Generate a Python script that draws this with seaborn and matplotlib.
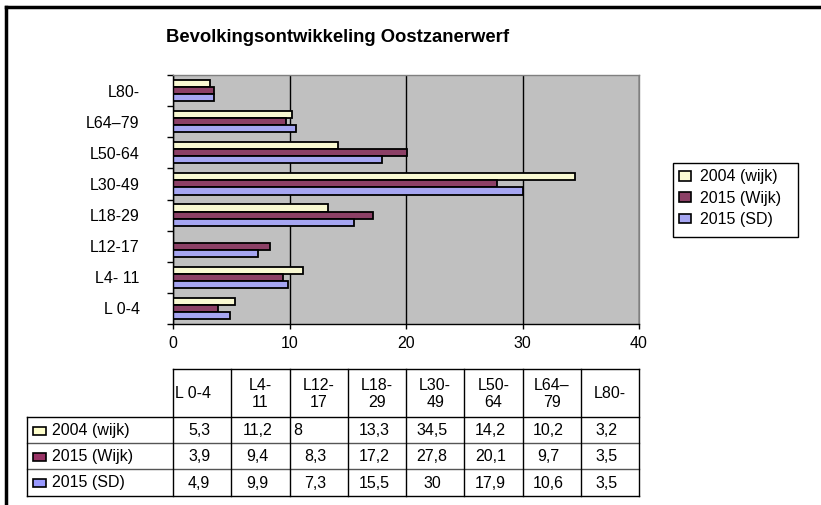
import matplotlib
matplotlib.use("Agg")
import matplotlib.pyplot as plt
import seaborn as sns
import numpy as np
import pandas as pd
from matplotlib.patches import Rectangle
from matplotlib.lines import Line2D
from matplotlib.ticker import FixedLocator

# ---------------- data ----------------
categories = ["L 0-4", "L4- 11", "L12-17", "L18-29", "L30-49", "L50-64", "L64–79", "L80-"]
table_headers = ["L 0-4", "L4-\n11", "L12-\n17", "L18-\n29", "L30-\n49", "L50-\n64", "L64–\n79", "L80-"]
series_names = ["2004 (wijk)", "2015 (Wijk)", "2015 (SD)"]
values_2004 = [5.3, 11.2, 8, 13.3, 34.5, 14.2, 10.2, 3.2]
values_2015_wijk = [3.9, 9.4, 8.3, 17.2, 27.8, 20.1, 9.7, 3.5]
values_2015_sd = [4.9, 9.9, 7.3, 15.5, 30, 17.9, 10.6, 3.5]
# In the source chart the 2004 value for L12-17 is stored as text: shown in the table, not drawn as a bar
text_cells_2004 = ["L12-17"]
colors = ["#FFFFCC", "#993366", "#9999FF"]
title = "Bevolkingsontwikkeling Oostzanerwerf"
x_ticks = [0, 10, 20, 30, 40]

plt.rcParams["font.family"] = ["Liberation Sans", "DejaVu Sans"]
FS = 11.5

series_values = [values_2004, values_2015_wijk, values_2015_sd]
rows = []
for name, vals in zip(series_names, series_values):
    for cat, v in zip(categories, vals):
        plotted = np.nan if (name == series_names[0] and cat in text_cells_2004) else v
        rows.append({"category": cat, "series": name, "value": plotted})
df = pd.DataFrame(rows)

W, H = 821, 505
fig = plt.figure(figsize=(W / 100, H / 100), dpi=100)
fig.patch.set_facecolor("white")

def fx(px):
    return px / W

def fy(py):
    return 1 - py / H

ax_l, ax_r, ax_t, ax_b = 173, 639, 75, 324
ax = fig.add_axes([fx(ax_l), fy(ax_b), fx(ax_r - ax_l), (ax_b - ax_t) / H])

sns.barplot(data=df, y="category", x="value", hue="series",
            order=categories[::-1], hue_order=series_names, palette=colors,
            orient="h", width=0.68, edgecolor="black", linewidth=1.3,
            errorbar=None, ax=ax)
handles, labels = ax.get_legend_handles_labels()
if ax.get_legend() is not None:
    ax.get_legend().remove()

ax.set_facecolor("#C0C0C0")
ax.set_xlim(0, 40)
ax.set_ylim(len(categories) - 0.5, -0.5)
ax.set_xticks(x_ticks)
ax.set_xticklabels([str(t) for t in x_ticks])
ax.xaxis.grid(True, color="black", linewidth=1)
ax.yaxis.grid(False)
ax.set_axisbelow(True)
ax.set_xlabel("")
ax.set_ylabel("")

ax.yaxis.set_minor_locator(FixedLocator(np.arange(-0.5, len(categories), 1)))
ax.tick_params(axis="y", which="major", length=0, pad=24, labelsize=FS, labelcolor="black")
ax.tick_params(axis="y", which="minor", length=4.3, width=1, color="black", direction="out")
ax.tick_params(axis="x", which="major", length=3.6, width=1, color="black", direction="out",
               pad=5, labelsize=FS, labelcolor="black")
for side in ["left", "bottom"]:
    ax.spines[side].set_color("black")
    ax.spines[side].set_linewidth(1)
for side in ["top", "right"]:
    ax.spines[side].set_color("#808080")
    ax.spines[side].set_linewidth(1)

# title
fig.text(fx(338), fy(37), title, ha="center", va="center", fontsize=13.3, fontweight="bold")

# outer border (left and top)
fig.add_artist(Line2D([fx(6), fx(6)], [0, fy(7)], color="black", linewidth=2.5))
fig.add_artist(Line2D([fx(6), 1], [fy(7), fy(7)], color="black", linewidth=2.5))

# ---------------- overlay (legend frame + data table) ----------------
tax = fig.add_axes([0, 0, 1, 1])
tax.set_xlim(0, W)
tax.set_ylim(H, 0)
tax.axis("off")
tax.patch.set_alpha(0)

# legend box
tax.add_patch(Rectangle((673, 163), 125, 74, facecolor="white", edgecolor="black", lw=1, zorder=1))
leg = tax.legend(handles, labels, loc="upper left", bbox_to_anchor=(fx(673), fy(163)),
                 bbox_transform=fig.transFigure,
                 frameon=False, handlelength=0.7, handleheight=0.55, handletextpad=0.6,
                 borderpad=0.4, labelspacing=0.4, fontsize=FS, borderaxespad=0)
for h in leg.legend_handles:
    h.set_edgecolor("black")
    h.set_linewidth(1.2)

n = len(categories)
col_w = (ax_r - ax_l) / n
col_x = [ax_l + i * col_w for i in range(n + 1)]
lab_left = 27
y_top, y_head, y_rows = 369, 417, [417, 443, 469, 496]

lc = "black"
tax.plot([ax_l, ax_r], [y_top, y_top], color=lc, lw=1)
for yy in y_rows:
    tax.plot([lab_left, ax_r], [yy, yy], color=lc if yy in (417, 496) else "#555555", lw=1)
for x in col_x:
    tax.plot([x, x], [y_top, y_rows[-1]], color=lc, lw=1)
tax.plot([lab_left, lab_left], [y_head, y_rows[-1]], color=lc, lw=1)

head_y = 394
for i, hdr in enumerate(table_headers):
    if i == 0:
        tax.text(col_x[i] + 2, head_y, hdr, ha="left", va="center", fontsize=FS)
    else:
        tax.text(col_x[i] + col_w / 2, head_y, hdr, ha="center", va="center",
                 fontsize=FS, multialignment="center", linespacing=1.1)

def fmt(v):
    return f"{v:g}".replace(".", ",")

for r, (name, vals, color) in enumerate(zip(series_names, series_values, colors)):
    yc = (y_rows[r] + y_rows[r + 1]) / 2 + 0.5
    tax.add_patch(Rectangle((33, yc - 4), 13, 8, facecolor=color, edgecolor="black", lw=1.2))
    tax.text(52, yc, name, ha="left", va="center", fontsize=FS)
    for i, (cat, v) in enumerate(zip(categories, vals)):
        if r == 0 and cat in text_cells_2004:
            tax.text(col_x[i] + 4, yc, fmt(v), ha="left", va="center", fontsize=FS)
        else:
            tax.text(col_x[i] + col_w / 2 - 3, yc, fmt(v), ha="center", va="center", fontsize=FS)

fig.savefig("out.png", dpi=100, facecolor="white")
